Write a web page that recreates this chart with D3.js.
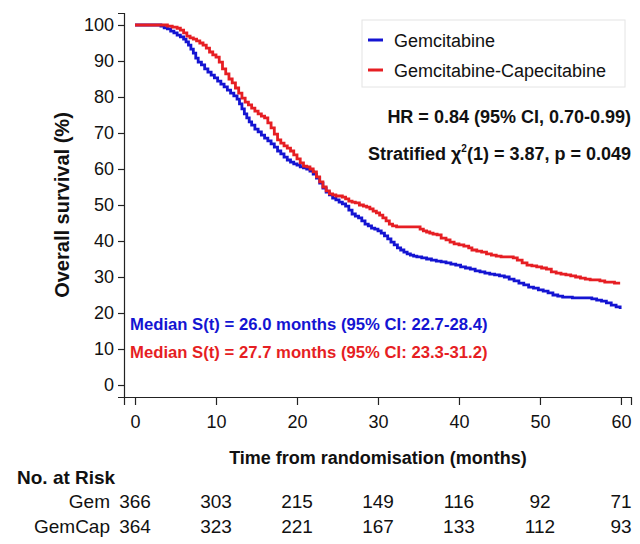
<!DOCTYPE html>
<html><head><meta charset="utf-8">
<script src="https://cdn.jsdelivr.net/npm/d3@7"></script>
<style>body{margin:0;background:#fff}svg{font-family:"Liberation Sans",Arial,sans-serif}</style>
</head><body><svg id="c" width="640" height="544"></svg>
<script>
const gemTime = [0,2.5,3.2,3.6,4.0,4.4,4.8,5.2,5.6,6.0,6.3,6.6,6.9,7.2,7.5,7.8,8.2,8.6,9.0,9.4,9.8,10.2,10.6,11.0,11.4,11.8,12.2,12.6,12.9,13.2,13.5,13.8,14.1,14.4,14.8,15.2,15.6,16.0,16.4,16.8,17.2,17.6,18.0,18.4,18.8,19.2,19.6,20.0,20.4,20.8,21.2,21.6,22.0,22.4,22.8,23.2,23.6,24.0,24.4,24.8,25.2,25.6,26.0,26.4,26.8,27.2,27.6,28.0,28.4,28.8,29.2,29.6,30.0,30.4,30.8,31.2,31.6,32.0,32.4,32.8,33.2,33.6,34.0,34.4,34.8,35.4,36.0,36.6,37.2,37.8,38.4,39.0,39.6,40.2,40.8,41.4,42.0,42.6,43.2,43.8,44.4,45.0,45.6,46.2,46.8,47.4,48.0,48.6,49.2,49.8,50.4,51.0,51.6,52.2,52.8,54.0,56.4,57.0,57.6,58.2,58.8,59.4,59.9];
const gemSurv = [100,100,99.7,99.2,98.9,98.3,97.8,97.2,96.7,96.1,95.3,94.4,93.3,92.2,90.8,89.7,88.9,87.8,86.9,86.1,85.3,84.4,83.6,82.8,81.9,81.1,80.3,79.4,78.1,76.7,75.3,74.2,73.1,72.2,71.1,70.3,69.4,68.6,67.8,67.0,66.1,65.0,64.2,63.3,62.5,61.9,61.4,61.1,60.6,60.3,60.0,59.4,58.6,57.5,56.1,54.7,53.6,52.8,51.9,51.4,50.8,50.3,49.7,48.6,47.5,46.9,46.4,45.6,44.7,44.2,43.6,43.3,42.8,42.2,41.4,40.6,39.7,38.9,38.1,37.5,36.9,36.4,36.1,35.8,35.6,35.3,35.0,34.7,34.4,34.2,33.9,33.6,33.3,32.8,32.5,32.2,31.7,31.4,31.1,30.8,30.6,30.3,30.0,29.4,28.9,28.3,27.8,27.2,26.9,26.4,26.1,25.6,25.0,24.7,24.4,24.2,23.9,23.6,23.3,22.8,22.2,21.7,21.1];
const capTime = [0,3.5,4.0,4.6,5.2,5.6,6.0,6.4,6.8,7.2,7.6,8.0,8.4,8.8,9.2,9.6,10.0,10.4,10.8,11.2,11.6,12.0,12.4,12.8,13.2,13.6,14.0,14.4,14.8,15.2,15.6,16.0,16.4,16.8,17.2,17.6,18.0,18.4,18.8,19.2,19.6,20.0,20.4,20.8,21.2,21.6,22.0,22.4,22.8,23.2,23.6,24.0,24.4,24.8,25.6,26.0,26.4,26.8,27.2,27.7,28.2,28.6,29.0,29.4,29.8,30.2,30.6,31.0,31.4,31.8,32.3,35.2,35.6,36.0,36.4,36.8,37.3,37.8,38.4,38.9,39.4,40.0,40.6,41.2,41.6,42.2,42.8,43.4,44.0,44.6,45.2,46.7,47.2,47.8,48.4,49.0,49.6,50.2,50.8,51.4,52.0,52.6,53.2,53.8,54.4,55.0,55.6,56.2,57.4,58.0,59.2,59.9];
const capSurv = [100,100,99.7,99.4,99.1,98.6,97.8,96.9,96.4,96.1,95.6,95.0,94.4,93.6,92.5,91.7,91.1,89.7,87.8,86.4,85.0,83.9,82.5,81.1,79.7,78.6,77.8,76.9,76.1,75.3,74.7,74.2,72.8,71.4,69.7,68.1,67.2,66.4,65.8,65.0,63.9,62.8,61.7,60.8,60.6,60.0,59.2,57.8,56.4,55.0,53.9,53.1,52.8,52.5,52.2,51.7,51.1,50.8,50.6,50.0,49.7,49.4,48.9,48.3,47.8,47.2,46.4,45.6,44.7,44.2,43.9,43.3,42.8,42.5,42.2,41.9,41.7,40.8,40.3,39.7,39.2,38.9,38.6,38.1,37.5,37.2,36.9,36.4,36.1,35.8,35.6,35.3,34.7,33.9,33.3,33.1,32.8,32.5,32.2,31.4,31.1,30.8,30.6,30.3,30.0,29.7,29.4,29.2,28.9,28.6,28.3,28.3];
const seriesNames = ["Gemcitabine","Gemcitabine-Capecitabine"];
const riskLabels = ["Gem","GemCap"];
const riskTimes = [0,10,20,30,40,50,60];
const riskGem = [366,303,215,149,116,92,71];
const riskCap = [364,323,221,167,133,112,93];
const xTicks = [0,10,20,30,40,50,60];
const yTicks = [0,10,20,30,40,50,60,70,80,90,100];
const BLUE = "#1414d2", RED = "#e61e23";

const svg = d3.select("#c");
const x = d3.scaleLinear().domain([-1.36,61.24]).range([124,631]);
const y = d3.scaleLinear().domain([-3.33,103.33]).range([397,13]);

const ax = svg.append("g").attr("transform","translate(0,397)")
  .call(d3.axisBottom(x).tickValues(xTicks).tickSizeOuter(0).tickSize(8).tickPadding(10));
const ay = svg.append("g").attr("transform","translate(124,0)")
  .call(d3.axisLeft(y).tickValues(yTicks).tickSizeOuter(0).tickSize(6).tickPadding(4));
[ax,ay].forEach(g=>{g.selectAll("text").attr("font-size",18).attr("fill","#111").attr("font-family","Liberation Sans, Arial, sans-serif");
  g.selectAll("line,path").attr("stroke","#222").attr("stroke-width",1.2);});

const line = d3.line().x(d=>x(d[0])).y(d=>y(d[1])).curve(d3.curveStepAfter);
svg.append("path").datum(gemTime.map((t,i)=>[t,gemSurv[i]])).attr("d",line)
  .attr("fill","none").attr("stroke",BLUE).attr("stroke-width",2.8);
svg.append("path").datum(capTime.map((t,i)=>[t,capSurv[i]])).attr("d",line)
  .attr("fill","none").attr("stroke",RED).attr("stroke-width",2.8);

// axis titles
svg.append("text").attr("x",378).attr("y",464).attr("text-anchor","middle")
  .attr("font-size",18).attr("font-weight","bold").attr("fill","#111").text("Time from randomisation (months)");
svg.append("text").attr("transform","translate(69,205) rotate(-90)").attr("text-anchor","middle")
  .attr("font-size",20).attr("font-weight","bold").attr("fill","#111").text("Overall survival (%)");

// legend
const lg = svg.append("g");
lg.append("rect").attr("x",362).attr("y",20).attr("width",263).attr("height",67)
  .attr("fill","#fff").attr("stroke","#e4e4e4").attr("stroke-width",1);
[BLUE,RED].forEach((c,i)=>{
  lg.append("line").attr("x1",368).attr("x2",383).attr("y1",40+i*30).attr("y2",40+i*30).attr("stroke",c).attr("stroke-width",3);
  lg.append("text").attr("x",394).attr("y",47+i*30).attr("font-size",18).attr("fill","#111").text(seriesNames[i]);
});

// stats
svg.append("text").attr("x",631).attr("y",123).attr("text-anchor","end").attr("font-size",18)
  .attr("font-weight","bold").attr("fill","#111").text("HR = 0.84 (95% CI, 0.70-0.99)");
const st = svg.append("text").attr("x",631).attr("y",160).attr("text-anchor","end").attr("font-size",18)
  .attr("font-weight","bold").attr("fill","#111");
st.append("tspan").text("Stratified χ");
st.append("tspan").attr("dy",-8).attr("font-size",10).text("2");
st.append("tspan").attr("dy",8).text("(1) = 3.87, p = 0.049");

// medians
svg.append("text").attr("x",130).attr("y",330).attr("font-size",16.7).attr("font-weight","bold")
  .attr("fill",BLUE).text("Median S(t) = 26.0 months (95% CI: 22.7-28.4)");
svg.append("text").attr("x",130).attr("y",358).attr("font-size",16.7).attr("font-weight","bold")
  .attr("fill",RED).text("Median S(t) = 27.7 months (95% CI: 23.3-31.2)");

// risk table
svg.append("text").attr("x",17).attr("y",484).attr("font-size",19).attr("font-weight","bold")
  .attr("fill","#111").text("No. at Risk");
[riskGem,riskCap].forEach((row,i)=>{
  const yy = 508 + i*25;
  svg.append("text").attr("x",110).attr("y",yy).attr("text-anchor","end").attr("font-size",19)
    .attr("fill","#111").text(riskLabels[i]);
  svg.append("g").selectAll("text").data(row).join("text")
    .attr("x",(d,j)=>x(riskTimes[j])).attr("y",yy).attr("text-anchor","middle")
    .attr("font-size",19).attr("fill","#111").text(d=>d);
});
</script></body></html>
